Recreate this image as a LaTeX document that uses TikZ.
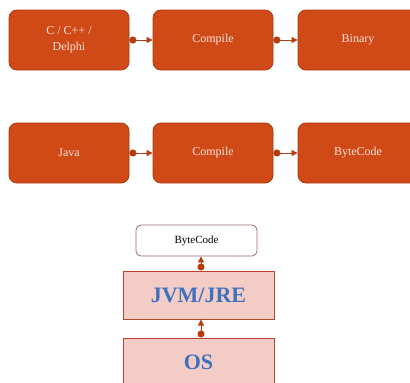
\documentclass[tikz,border=0pt]{standalone}
\usepackage{fontspec}
\setmainfont{Liberation Serif}
\usetikzlibrary{arrows.meta}
\definecolor{orfill}{HTML}{D04A18}
\definecolor{ordraw}{HTML}{A8380E}
\definecolor{ortext}{HTML}{FBE3D8}
\definecolor{pkfill}{HTML}{F4CCC6}
\definecolor{pkdraw}{HTML}{B5462C}
\definecolor{bctdraw}{HTML}{9A6A66}
\definecolor{conn}{HTML}{B53A0C}
\definecolor{bluet}{HTML}{3E70C0}
\tikzset{
  obox/.style={draw=ordraw, line width=0.8pt, fill=orfill, rounded corners=8pt,
    minimum width=120pt, minimum height=60pt, text=ortext, font=\fontsize{12}{16}\selectfont,
    align=center, inner sep=0pt},
  pbox/.style={draw=pkdraw, line width=1pt, fill=pkfill, minimum width=151pt,
    minimum height=48pt, text=bluet, font=\fontsize{22}{24}\selectfont\bfseries, inner sep=0pt},
  wbox/.style={draw=bctdraw, line width=0.8pt, fill=white, rounded corners=5pt,
    minimum width=121pt, minimum height=31pt, font=\fontsize{11}{13}\selectfont, inner sep=0pt},
  conn/.style={draw=conn, line width=1pt, {Circle[length=7pt]}-{Triangle[length=6pt,width=6pt]}}
}
\begin{document}
\begin{tikzpicture}[x=1pt,y=-1pt]
\useasboundingbox (0,0) rectangle (410,383);
\clip (0,0) rectangle (410,383);
\node[obox] (c) at (69,40) {C / C++ /\\Delphi};
\node[obox] (c2) at (213,40) {Compile};
\node[obox] (bin) at (358,40) {Binary};
\node[obox] (j) at (69,153) {Java};
\node[obox] (j2) at (213,153) {Compile};
\node[obox] (bc) at (358,153) {ByteCode};
\node[wbox] (bct) at (196.5,240.5) {ByteCode};
\node[pbox] (jvm) at (198.5,295) {JVM/JRE};
\node[pbox] (os) at (198.5,362) {OS};
\draw[conn] (c.east) -- (c2.west);
\draw[conn] (c2.east) -- (bin.west);
\draw[conn] (j.east) -- (j2.west);
\draw[conn] (j2.east) -- (bc.west);
\draw[conn] (jvm.north -| 201,0) -- (bct.south -| 201,0);
\draw[conn] (os.north -| 201,0) -- (jvm.south -| 201,0);
\end{tikzpicture}
\end{document}
